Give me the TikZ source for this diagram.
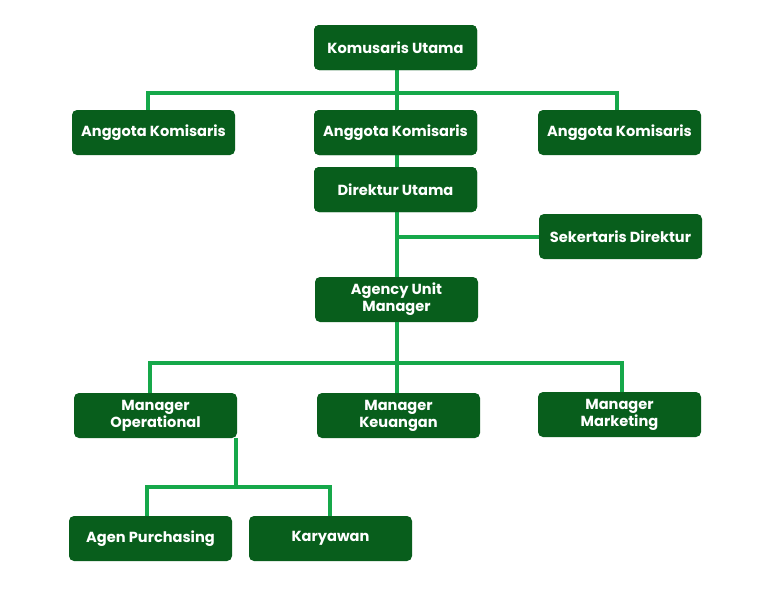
\documentclass[tikz,border=0pt]{standalone}
\usepackage{fontspec}
\setmainfont{Poppins}
\definecolor{boxgreen}{RGB}{8,94,28}
\definecolor{linegreen}{RGB}{22,168,74}
\begin{document}
\begin{tikzpicture}[x=1pt,y=-1pt,
  box/.style={draw=none,fill=boxgreen,rounded corners=5pt,minimum width=163pt,minimum height=45pt,
    text=white,font=\fontsize{14.6}{17}\selectfont\bfseries,align=center,inner sep=2pt},
  conn/.style={draw=linegreen,line width=4pt}]
\useasboundingbox (0,0) rectangle (782,597);
\fill[white] (0,0) rectangle (782,597);
\coordinate (h1l) at (148,93);
\coordinate (h1r) at (617,93);
\coordinate (h1m) at (397,93);
\coordinate (s1) at (397,237);
\coordinate (h2m) at (397,363);
\coordinate (h2l) at (150,363);
\coordinate (h2r) at (622,363);
\coordinate (h3a) at (236,487);
\coordinate (h3l) at (147,487);
\coordinate (h3r) at (330,487);

\node[box] (ku) at (395.5,47.5) {Komusaris Utama};
\node[box] (akl) at (153.5,132.5) {Anggota Komisaris};
\node[box] (akm) at (395.5,132.5) {Anggota Komisaris};
\node[box] (akr) at (619.5,132.5) {Anggota Komisaris};
\node[box] (du) at (395.5,189.5) {Direktur Utama};
\node[box] (sd) at (620.5,236.5) {Sekertaris Direktur};
\node[box] (aum) at (396.5,299.5) {Agency Unit\\Manager};
\node[box] (mo) at (155.5,415.5) {Manager\\Operational};
\node[box] (mk) at (398.5,415.5) {Manager\\Keuangan};
\node[box] (mm) at (619.5,414.5) {Manager\\Marketing};
\node[box] (ap) at (150.5,538.5) {Agen Purchasing};
\node[box] (ky) at (330.5,538.5) {Karyawan};

\draw[conn] (ku.south -| h1m) -- (du.north -| h1m);
\draw[conn] (h1l |- akl.north) -- (h1l) -- (h1r) -- (h1r |- akr.north);
\draw[conn] (du.south -| s1) -- (aum.north -| s1);
\draw[conn] (s1) -- (s1 -| sd.west);
\draw[conn] (aum.south -| h2m) -- (mk.north -| h2m);
\draw[conn] (h2l |- mo.north) -- (h2l) -- (h2r) -- (h2r |- mm.north);
\draw[conn] (mo.south -| h3a) -- (h3a);
\draw[conn] (h3l |- ap.north) -- (h3l) -- (h3r) -- (h3r |- ky.north);
% boxes crossed by the central line, drawn again on top
\node[box] at (ku) {Komusaris Utama};
\node[box] at (akm) {Anggota Komisaris};
\node[box] at (du) {Direktur Utama};
\end{tikzpicture}
\end{document}
